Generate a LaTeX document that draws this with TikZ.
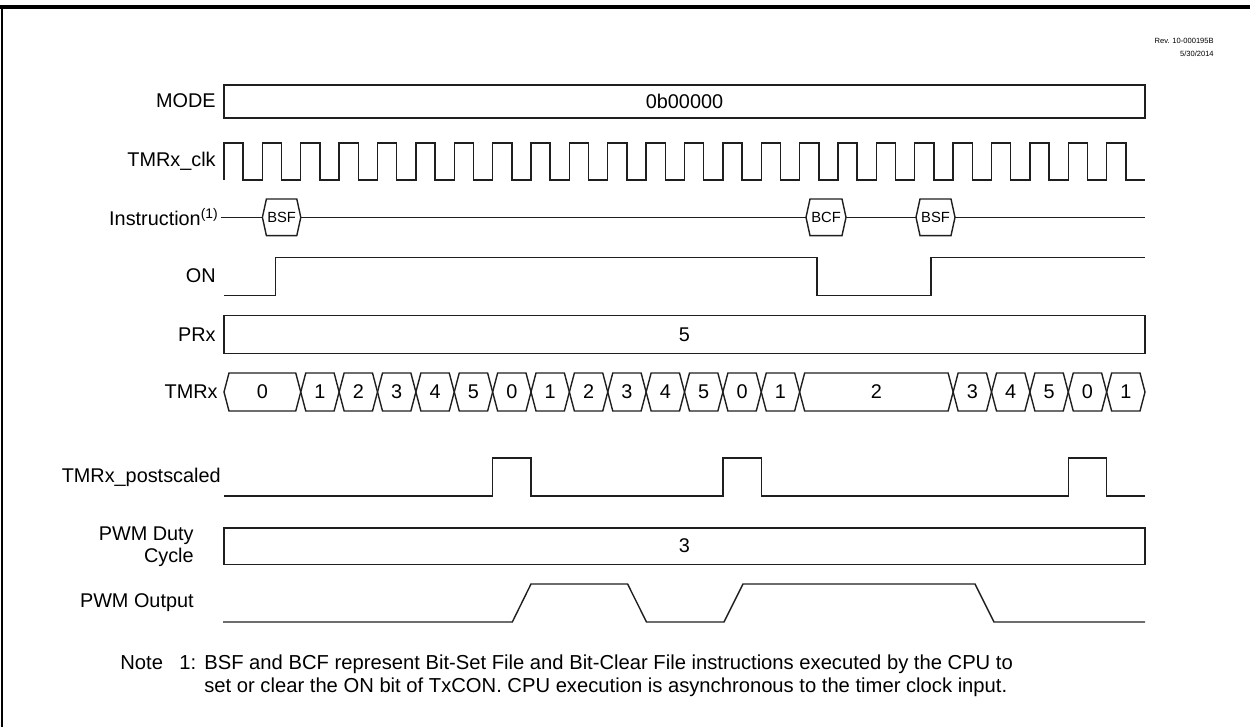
\documentclass[tikz,border=0pt]{standalone}
\usepackage{fontspec}
\setmainfont{Liberation Sans}
\usetikzlibrary{calc}
\definecolor{WaveClr}{rgb}{0.12,0.12,0.12}

% x position of clock edge n (one TMRx_clk period = 38.375)
\newcommand{\tck}[1]{224+(#1)*38.375}

% instruction hexagon on the Instruction line
\newcommand{\opbox}[4]{%
  \filldraw[wave,fill=white] (#1,217.3) -- ({#1+4},199) -- ({#2-4},199) -- (#2,217.3)
    -- ({#2-4},235.6) -- ({#1+4},235.6) -- cycle;
  \node[opCode] (#3) at ({(#1+#2)/2},217.3) {#4};}

\begin{document}
\begin{tikzpicture}[x=0.02cm,y=-0.02cm,
  wave/.style={line width=0.8pt,color=WaveClr},
  sigName/.style={anchor=east,inner sep=0pt,font=\fontsize{11.3}{13.6}\selectfont},
  busVal/.style={inner sep=0pt,font=\fontsize{11.3}{13.6}\selectfont},
  opCode/.style={inner sep=0pt,font=\fontsize{8.4}{9}\selectfont},
  noteTxt/.style={anchor=base west,inner sep=0pt,font=\fontsize{11.5}{13.6}\selectfont}]
\useasboundingbox (0,0) rectangle (1250,727);

% frame
\draw[line width=2pt] (0,7) -- (1250,7);
\draw[line width=1.2pt] (2,7) -- (2,727);

\node[anchor=north east,align=right,inner sep=0pt,font=\fontsize{4.3}{7.4}\selectfont] (rev) at (1214,38) {Rev. 10-000195B\\5/30/2014};

% MODE
\node[sigName] (modeLbl) at (216,101) {MODE};
\draw[wave] (224,85) rectangle (1145,118);
\node[busVal] (modeVal) at (684.5,101) {0b00000};

% TMRx_clk
\node[sigName] (clkLbl) at (216,161) {TMRx\_clk};
\draw[wave] (224,180) \foreach \n in {0,...,23} {
  -- ({\tck{\n}},143) -- ({\tck{\n+0.5}},143) -- ({\tck{\n+0.5}},180) -- ({\tck{\n+1}},180)};

% Instruction
\node[sigName] (instrLbl) at (219,217) {Instruction\textsuperscript{(1)}};
\draw[wave] (221,217.3) -- (1145,217.3);
\opbox{262.4}{300.8}{bsfA}{BSF}
\opbox{806}{846}{bcfA}{BCF}
\opbox{916}{955}{bsfB}{BSF}

% ON
\node[sigName] (onLbl) at (216,276) {ON};
\draw[wave] (224,295.7) -- (275.7,295.7) -- (275.7,257.3) -- (817,257.3) -- (817,295.7)
  -- (931,295.7) -- (931,257.3) -- (1145,257.3);

% PRx
\node[sigName] (prLbl) at (216,335) {PRx};
\draw[wave] (224,315.7) rectangle (1145,353.3);
\node[busVal] (prVal) at (684.5,335) {5};

% TMRx
\node[sigName] (tmrLbl) at (218,392) {TMRx};
\foreach \a/\b/\v [count=\i] in {0/2/0,2/3/1,3/4/2,4/5/3,5/6/4,6/7/5,7/8/0,8/9/1,9/10/2,10/11/3,
    11/12/4,12/13/5,13/14/0,14/15/1,15/19/2,19/20/3,20/21/4,21/22/5,22/23/0,23/24/1} {
  \draw[wave] ({\tck{\a}},392) -- ({\tck{\a}+5},373) -- ({\tck{\b}-5},373) -- ({\tck{\b}},392)
    -- ({\tck{\b}-5},411) -- ({\tck{\a}+5},411) -- cycle;
  \node[busVal] (tmr\i) at ({\tck{(\a+\b)/2}},392) {\v};
}

% TMRx_postscaled
\node[sigName] (postLbl) at (221,477) {TMRx\_postscaled};
\draw[wave] (224,496) \foreach \p in {7,13,22} {
  -- ({\tck{\p}},496) -- ({\tck{\p}},458) -- ({\tck{\p+1}},458) -- ({\tck{\p+1}},496)} -- (1145,496);

% PWM Duty Cycle
\node[sigName,align=right,font=\fontsize{11.3}{12.5}\selectfont] (dutyLbl) at (194,547) {PWM Duty\\Cycle};
\draw[wave] (224,528) rectangle (1145,564.5);
\node[busVal] (dutyVal) at (684.5,546) {3};

% PWM Output
\node[sigName] (pwmLbl) at (194,603) {PWM Output};
\draw[wave] (223,622) -- (512.3,622) -- (531,584) -- (627.6,584) -- (646.5,622) -- (724,622)
  -- (743,584) -- (975,584) -- (994,622) -- (1145,622);

% note
\node[noteTxt] (noteHd) at (120,669) {Note};
\node[noteTxt] (noteNum) at (179,669) {1:};
\node[noteTxt] (noteA) at (204,669) {BSF and BCF represent Bit-Set File and Bit-Clear File instructions executed by the CPU to};
\node[noteTxt] (noteB) at (204,692) {set or clear the ON bit of TxCON. CPU execution is asynchronous to the timer clock input.};
\end{tikzpicture}
\end{document}
